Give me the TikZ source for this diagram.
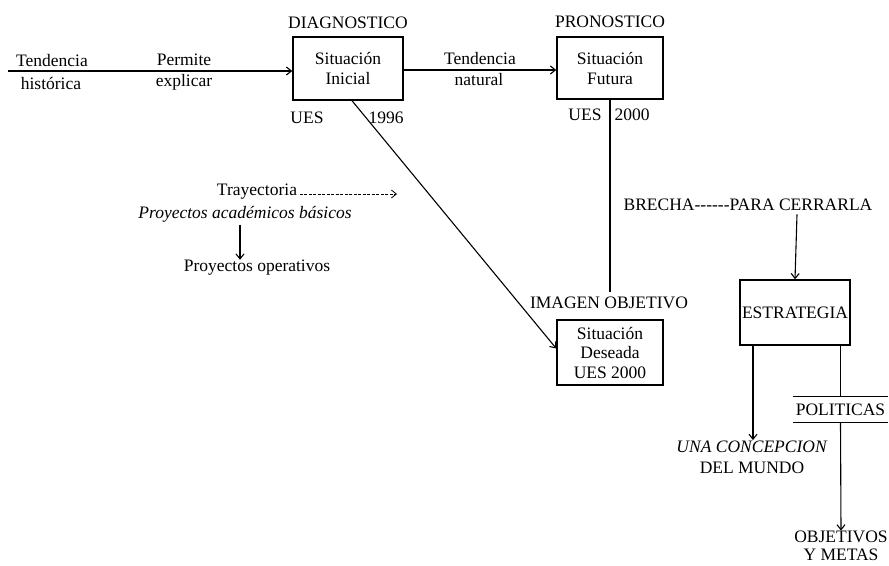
\documentclass[tikz,border=0pt]{standalone}
\usepackage{fontspec}
\setmainfont{Liberation Serif}
\usetikzlibrary{arrows.meta}
\begin{document}
\begin{tikzpicture}[x=1pt,y=-1pt,line width=1.1pt,
  lbl/.style={font=\fontsize{17.5}{20}\selectfont,inner sep=0pt,align=center},
  boxn/.style={lbl,draw,line width=1.4pt},
  arr/.style={-{Straight Barb[length=5pt,width=8pt]}}]
\useasboundingbox (0,0) rectangle (889,565);

% boxes
\node[boxn,minimum width=110pt,minimum height=63pt] (ini) at (348,68.5) {Situación\\Inicial};
\node[boxn,minimum width=106pt,minimum height=62pt] (fut) at (610,68) {Situación\\Futura};
\node[boxn,minimum width=106pt,minimum height=65pt,font=\fontsize{17.5}{19.5}\selectfont] (des) at (610,352.5) {Situación\\Deseada\\UES 2000};
\node[boxn,minimum width=110pt,minimum height=65pt] (est) at (795,312.5) {ESTRATEGIA};

% labels
\node[lbl] (diag) at (348,23) {DIAGNOSTICO};
\node[lbl] (pron) at (610,22) {PRONOSTICO};
\node[lbl] (ues1) at (307,118) {UES};
\node[lbl] (y96) at (386,118) {1996};
\node[lbl] (ues2) at (585,115) {UES};
\node[lbl] (y00) at (632,115) {2000};
\node[lbl] (tend1) at (52,61) {Tendencia};
\node[lbl] (hist) at (51,83) {histórica};
\node[lbl] (perm) at (184,60) {Permite};
\node[lbl] (expl) at (184,82) {explicar};
\node[lbl] (tend2) at (480,59) {Tendencia};
\node[lbl] (nat) at (479,80) {natural};
\node[lbl] (imag) at (609,303) {IMAGEN OBJETIVO};
\node[lbl] (brecha) at (748,205) {BRECHA-{}-{}-{}-{}-{}-PARA CERRARLA};
\node[lbl] (tray) at (257,192) {Trayectoria};
\node[lbl,font=\fontsize{17.5}{20}\selectfont\itshape] (acad) at (245,214) {Proyectos académicos básicos};
\node[lbl] (oper) at (257,268) {Proyectos operativos};
\node[lbl,font=\fontsize{17.5}{21}\selectfont] (conc) at (752,457) {\textit{UNA CONCEPCION}\\DEL MUNDO};
\node[lbl,minimum width=93pt,minimum height=25pt] (pol) at (840.5,409.5) {POLITICAS};
\node[lbl,font=\fontsize{17.5}{18}\selectfont] (obj) at (841,546) {OBJETIVOS\\Y METAS};

\coordinate (hstart) at (8,71);
\coordinate (trayend) at (397,194);

% connectors (note: yshift is in page direction, positive = up)
\draw[arr] (hstart) -- (ini.west |- hstart);
\draw[arr] (ini.east |- 0,70) -- (fut.west |- 0,70);
\draw[arr] ([xshift=4pt]ini.south) -- ([yshift=4pt]des.west);
\draw (fut.south) -- ([yshift=5pt]imag.north -| fut.south);
\draw[arr,dashed,dash pattern=on 3pt off 1.5pt,line width=0.8pt] ([xshift=2pt,yshift=-2pt]tray.east) -- (trayend);
\draw[arr] ([xshift=-5pt,yshift=-2pt]acad.south) -- ([xshift=-5pt]acad.south |- oper.north);
\draw[arr] ([xshift=49pt,yshift=-3pt]brecha.south) -- (est.north);
\draw[arr] ([xshift=-42pt]est.south) -- ([xshift=-42pt]est.south |- conc.north);
\draw (est.south -| pol.north) -- (pol.north);
\draw (pol.north west) -- (pol.north east);
\draw (pol.south west) -- (pol.south east);
\draw[arr] (pol.south) -- (obj.north);
\end{tikzpicture}
\end{document}
